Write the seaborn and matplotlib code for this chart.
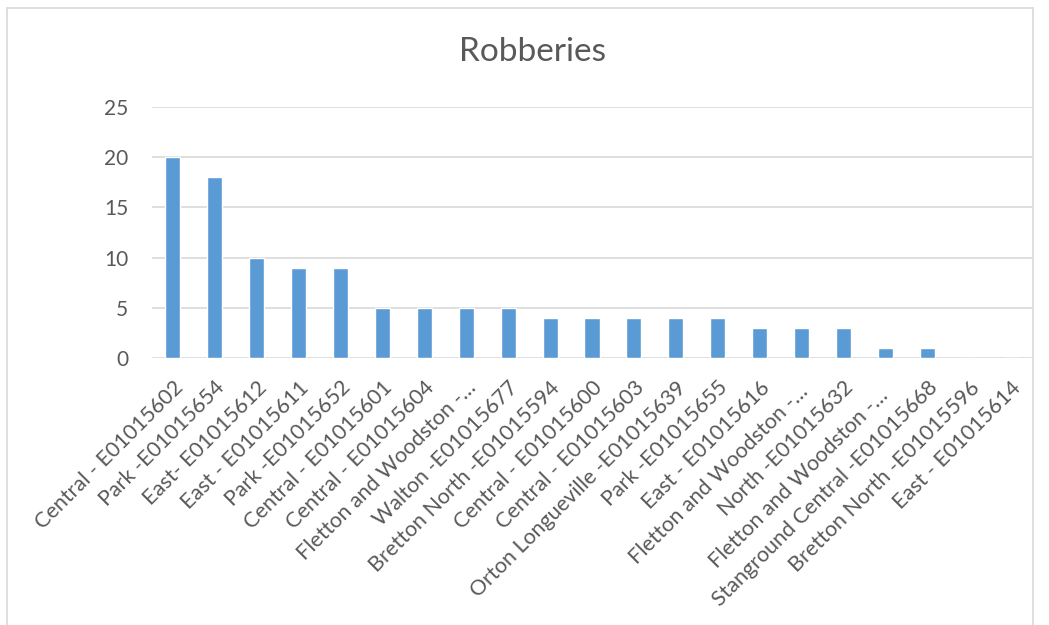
import matplotlib
matplotlib.use("Agg")
import matplotlib.pyplot as plt
import seaborn as sns
import pandas as pd
from matplotlib.patches import Rectangle

# Data
areas = [
    "Central - E01015602", "Park -E01015654", "East- E01015612", "East - E01015611",
    "Park -E01015652", "Central - E01015601", "Central - E01015604",
    "Fletton and Woodston -…", "Walton -E01015677", "Bretton North -E01015594",
    "Central - E01015600", "Central - E01015603", "Orton Longueville -E01015639",
    "Park -E01015655", "East - E01015616", "Fletton and Woodston -… ",
    "North -E01015632", "Fletton and Woodston -…  ", "Stanground Central -E01015668",
    "Bretton North -E01015596", "East - E01015614",
]
robberies = [20, 18, 10, 9, 9, 5, 5, 5, 5, 4, 4, 4, 4, 4, 3, 3, 3, 1, 1, 0, 0]

df = pd.DataFrame({"area": areas, "robberies": robberies})

sns.set_style("white")
plt.rcParams["font.family"] = ["Lato", "DejaVu Sans"]
text_col = "#595959"

fig = plt.figure(figsize=(10.49, 6.25), dpi=100)
ax = fig.add_axes([0.1449, 0.4272, 0.8389, 0.4016])

sns.barplot(data=df, x="area", y="robberies", color="#5B9BD5", saturation=1,
            width=0.36, ax=ax)

ax.set_xlim(-0.5, len(areas) - 0.5)
ax.set_ylim(0, 25)
ax.set_yticks([0, 5, 10, 15, 20, 25])
ax.grid(axis="y", color="#D9D9D9", linewidth=1.2)
ax.set_axisbelow(True)
for s in ax.spines.values():
    s.set_visible(False)
ax.set_xlabel("")
ax.set_ylabel("")
ax.tick_params(axis="y", length=0, pad=17, labelsize=15, labelcolor=text_col)
ax.tick_params(axis="x", length=0, pad=14, labelsize=15.5, labelcolor=text_col)
plt.setp(ax.get_xticklabels(), rotation=45, ha="right", rotation_mode="anchor")

fig.text(0.508, 1 - 52 / 625, "Robberies", ha="center", va="center",
         fontsize=24, color=text_col)

# outer chart frame
fig.patches.append(Rectangle((6.5 / 1049, -0.02), (1033 - 6.5) / 1049, 1.02 - 8 / 625,
                             transform=fig.transFigure, fill=False,
                             edgecolor="#D9D9D9", linewidth=1.2))

fig.savefig("out.png", dpi=100)
